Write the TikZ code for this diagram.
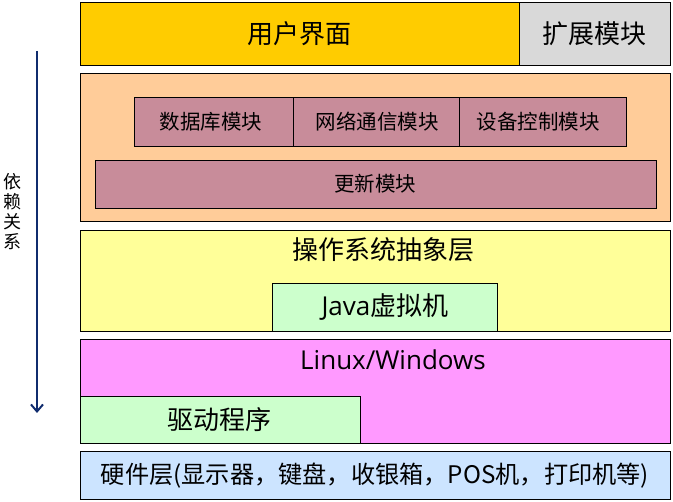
\documentclass[tikz,border=0pt]{standalone}
\usepackage{fontspec}
\setmainfont{Noto Sans CJK SC}
\newfontfamily\latinfont{Open Sans}
\usetikzlibrary{arrows.meta}
\definecolor{cUI}{HTML}{FFCC00}
\definecolor{cExt}{HTML}{D9D9D9}
\definecolor{cMid}{HTML}{FFCC99}
\definecolor{cMod}{HTML}{C88C9A}
\definecolor{cOS}{HTML}{FFFF99}
\definecolor{cGreen}{HTML}{CCFFCC}
\definecolor{cPink}{HTML}{FF99FF}
\definecolor{cHW}{HTML}{CCE4FF}
\definecolor{cArrow}{HTML}{102C6E}
\begin{document}
\begin{tikzpicture}[x=1pt,y=-1pt,
  layerbox/.style={draw=black,line width=0.8pt,inner sep=0pt,anchor=north west},
  bigtext/.style={font=\fontsize{26}{28}\selectfont},
  modtext/.style={font=\fontsize{20.5}{22}\selectfont},
  hwtext/.style={font=\fontsize{24.2}{26}\selectfont},
  deptext/.style={font=\fontsize{18}{20}\selectfont,align=center,inner sep=0pt}]
\useasboundingbox (0,0) rectangle (673,502);
% top layer
\node[layerbox,fill=cUI,minimum width=439pt,minimum height=63pt,bigtext] (ui) at (80,2) {};
\node[bigtext] (uitext) at (299,34) {用户界面};
\node[layerbox,fill=cExt,minimum width=151pt,minimum height=63pt] (ext) at (519,2) {};
\node[bigtext] (exttext) at (594,34) {扩展模块};
% middle (application services)
\node[layerbox,fill=cMid,minimum width=590pt,minimum height=148pt] (mid) at (80,73) {};
\node[layerbox,fill=cMod,minimum width=159pt,minimum height=49pt] (db) at (134,97) {};
\node[modtext] (dbtext) at (211,122) {数据库模块};
\node[layerbox,fill=cMod,minimum width=166pt,minimum height=49pt] (net) at (293,97) {};
\node[modtext] (nettext) at (377,122) {网络通信模块};
\node[layerbox,fill=cMod,minimum width=167pt,minimum height=49pt] (dev) at (459,97) {};
\node[modtext] (devtext) at (538,122) {设备控制模块};
\node[layerbox,fill=cMod,minimum width=561pt,minimum height=48pt] (upd) at (95,160) {};
\node[modtext] (updtext) at (375,184) {更新模块};
% OS abstraction
\node[layerbox,fill=cOS,minimum width=590pt,minimum height=101pt] (osa) at (80,230) {};
\node[bigtext] (osatext) at (383,250) {操作系统抽象层};
\node[layerbox,fill=cGreen,minimum width=225pt,minimum height=48pt] (jvm) at (272,283) {};
\node[bigtext] (jvmtext) at (385,307) {{\latinfont Java}虚拟机};
% OS
\node[layerbox,fill=cPink,minimum width=590pt,minimum height=104pt] (os) at (80,339) {};
\node[bigtext] (ostext) at (393,360) {\latinfont Linux/Windows};
\node[layerbox,fill=cGreen,minimum width=280pt,minimum height=47pt] (drv) at (80,396) {};
\node[bigtext] (drvtext) at (219,420) {驱动程序};
% hardware
\node[layerbox,fill=cHW,minimum width=590pt,minimum height=48pt] (hw) at (80,451) {};
\node[hwtext] (hwtext) at (375,476) {硬件层(显示器，键盘，收银箱，POS机，打印机等)};
% dependency arrow
\coordinate (atop) at (37,51);
\coordinate (abot) at (37,413);
\draw[cArrow,line width=2.2pt,-{Straight Barb[length=7pt,width=12pt,line width=2pt]}] (atop) -- (abot);
\node[deptext] (dep) at (12,212) {依\\赖\\关\\系};
\end{tikzpicture}
\end{document}
